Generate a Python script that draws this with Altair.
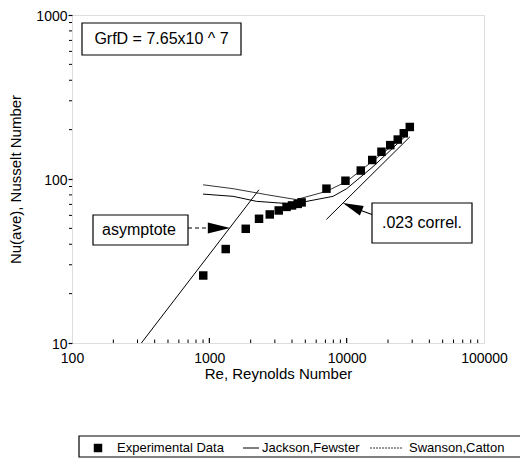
import altair as alt
import pandas as pd

# ---------------- data ----------------
exp_re = [903, 1316, 1841, 2301, 2754, 3201, 3650, 4000, 4400, 4700,
          7125, 9800, 12670, 15360, 17920, 20770, 23550, 26060, 28820]
exp_nu = [25.8, 37.4, 49.7, 57.2, 60.8, 64.3, 67.6, 69.0, 70.5, 72.0,
          87.3, 97.6, 112.6, 130.6, 146.6, 160.9, 174.0, 190.0, 207.6]

jf_re = [900, 1490, 2200, 4070, 7960, 10000, 15570, 27260]          # Jackson, Fewster
jf_nu = [80.9, 78.4, 73.1, 70.4, 78.4, 87.3, 119.0, 185.0]

sc_re = [900, 1490, 2600, 4300, 7100, 10000, 15000, 20000, 28000]    # Swanson, Catton
sc_nu = [92.2, 87.3, 80.3, 74.9, 84.0, 96.6, 126.0, 152.0, 197.0]

asym_re = [320, 2300]        # asymptote
asym_nu = [10, 86]

corr_re = [7125, 28820]      # .023 correlation
corr_nu = [56.7, 180.6]

x_labels = [100, 1000, 10000, 100000]
y_labels = [10, 100, 1000]
x_major_in = [1000, 10000]
x_minor = [m * d for d in (100, 1000, 10000) for m in range(2, 10)]
y_minor = [m * d for d in (10, 100) for m in range(2, 10)]

legend_labels = ["Experimental Data", "Jackson,Fewster", "Swanson,Catton"]
grfd_text = "GrfD = 7.65x10 ^ 7"

# ---------------- chart ----------------
W, H = 412, 328
FONT = "Liberation Sans"
xs = alt.Scale(type="log", domain=[100, 100000], nice=False)
ys = alt.Scale(type="log", domain=[10, 1000], nice=False)

XT = "Re, Reynolds Number"
YT = "Nu(ave), Nusselt Number"

x_axis = alt.Axis(values=x_labels, format="d", ticks=False, grid=False, domain=False,
                  labelFlush=False, labelPadding=8, labelFontSize=14, labelColor="black",
                  titleFontSize=15, titleFontWeight="normal", titleColor="black",
                  titlePadding=1, labelFont=FONT, titleFont=FONT)
y_axis = alt.Axis(values=y_labels, format="d", tickSize=4, tickColor="black", tickWidth=1.2,
                  grid=False, domain=False, labelPadding=1, labelFontSize=14,
                  labelOffset=1, labelColor="black", titleFontSize=15,
                  titleFontWeight="normal", titleColor="black", titlePadding=12,
                  labelFont=FONT, titleFont=FONT)

exp_df = pd.DataFrame({"Re": exp_re, "Nu": exp_nu})
points = alt.Chart(exp_df).mark_square(size=72, color="black", opacity=1).encode(
    x=alt.X("Re:Q", scale=xs, axis=x_axis, title=XT),
    y=alt.Y("Nu:Q", scale=ys, axis=y_axis, title=YT),
)


def line(re, nu, width=1.0, dash=None):
    df = pd.DataFrame({"Re": re, "Nu": nu, "o": list(range(len(re)))})
    kw = dict(color="black", strokeWidth=width)
    if dash:
        kw["strokeDash"] = dash
    return alt.Chart(df).mark_line(**kw).encode(
        x=alt.X("Re:Q", scale=xs, title=XT),
        y=alt.Y("Nu:Q", scale=ys, title=YT),
        order="o:Q",
    )


jf = line(jf_re, jf_nu, 1.0)
sc = line(sc_re, sc_nu, 0.8)
asym = line(asym_re, asym_nu, 1.0)
corr = line(corr_re, corr_nu, 1.0)

# inward x ticks, outward y minor ticks
xmin_df = pd.DataFrame({"Re": x_minor})
xmaj_df = pd.DataFrame({"Re": x_major_in})
ymin_df = pd.DataFrame({"Nu": y_minor})
xminor = alt.Chart(xmin_df).mark_rule(color="black", strokeWidth=1).encode(
    x=alt.X("Re:Q", scale=xs, title=XT), y=alt.value(H), y2=alt.value(H - 3.5))
xmajor = alt.Chart(xmaj_df).mark_rule(color="black", strokeWidth=1.2).encode(
    x=alt.X("Re:Q", scale=xs, title=XT), y=alt.value(H), y2=alt.value(H - 5))
yminor = alt.Chart(ymin_df).mark_rule(color="black", strokeWidth=1).encode(
    y=alt.Y("Nu:Q", scale=ys, title=YT), x=alt.value(-3), x2=alt.value(0))

one = pd.DataFrame({"k": [0]})


def box(x1, y1, x2, y2, sw=1.2):
    return alt.Chart(one).mark_rect(fill="white", stroke="black", strokeWidth=sw).encode(
        x=alt.value(x1), x2=alt.value(x2), y=alt.value(y1), y2=alt.value(y2))


def label(x, y, txt, size=16, align="center"):
    return alt.Chart(one).mark_text(font=FONT, fontSize=size, color="black",
                                    align=align, baseline="middle").encode(
        x=alt.value(x), y=alt.value(y), text=alt.value(txt))


def seg(x1, y1, x2, y2, sw=1.0, dash=None):
    kw = dict(color="black", strokeWidth=sw)
    if dash:
        kw["strokeDash"] = dash
    return alt.Chart(one).mark_rule(**kw).encode(
        x=alt.value(x1), x2=alt.value(x2), y=alt.value(y1), y2=alt.value(y2))


ARROW = "M1,0L-1,-0.5L-1,0.5Z"


def head(x, y, size, angle):
    return alt.Chart(one).mark_point(shape=ARROW, size=size, filled=True, color="black",
                                     opacity=1, angle=angle).encode(
        x=alt.value(x), y=alt.value(y))


annot = [
    box(10, 8, 169, 40), label(89.5, 24, grfd_text),
    box(21, 200, 116, 230), label(67, 215, "asymptote"),
    seg(116, 213, 136, 213, 1.2, [4, 3]), head(147, 213, 500, 0),
    box(300, 188, 400, 228), label(350, 208, ".023 correl."),
    seg(289, 195.5, 300, 199.5, 1.2), head(280.3, 191.8, 420, 202),
]

LY = 433
legend = [
    box(7, 421, 460, 442, 1.2),
    alt.Chart(one).mark_square(size=72, color="black", opacity=1).encode(
        x=alt.value(26), y=alt.value(LY)),
    label(45, LY, legend_labels[0], 13, "left"),
    seg(171, LY, 187, LY, 1.0),
    label(190, LY, legend_labels[1], 13, "left"),
    seg(298, LY, 331, LY, 0.8, [2, 1]),
    label(337, LY, legend_labels[2], 13, "left"),
]

chart = alt.layer(
    asym, corr, jf, sc, points, xminor, xmajor, yminor, *annot, *legend
).properties(
    width=W, height=H,
    autosize=alt.AutoSizeParams(type="none"),
    padding={"left": 64, "top": 7, "right": 36, "bottom": 115},
).configure_view(stroke="black", strokeWidth=1.5).configure(background="white")

chart.save("out.html", embed_options={"renderer": "svg", "actions": False})
